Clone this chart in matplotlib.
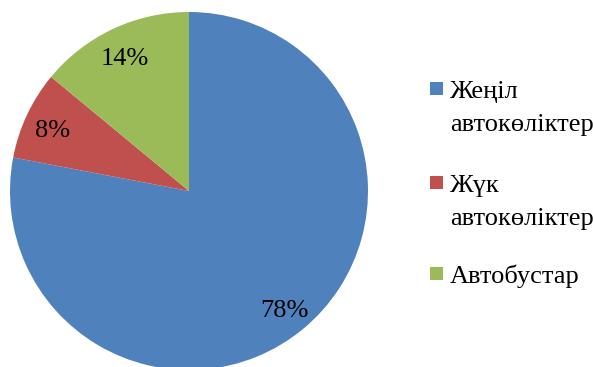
import matplotlib
matplotlib.use("Agg")
import matplotlib.pyplot as plt
from matplotlib.patches import Rectangle

plt.rcParams['font.family'] = ['Liberation Serif', 'DejaVu Serif']

labels = ["Жеңіл\nавтокөліктер", "Жүк\nавтокөліктер", "Автобустар"]
values = [78, 8, 14]
colors = ["#4F81BD", "#C0504D", "#9BBB59"]

W, H = 593, 367
fig = plt.figure(figsize=(W/100, H/100), dpi=100)
ax = fig.add_axes([10/W, -3/H, 358/W, 358/H])

wedges, texts, autotexts = ax.pie(values, colors=colors, startangle=90,
                                  counterclock=False, autopct="%d%%",
                                  pctdistance=0.84, radius=1,
                                  wedgeprops={"linewidth": 0})
plt.setp(autotexts, size=19, color="black")
# las etiquetas del original quedan un poco mas abajo
for t in autotexts:
    x, y = t.get_position()
    t.set_position((x, y - 0.025))
ax.set_xlim(-1, 1)
ax.set_ylim(-1, 1)
ax.set_aspect("equal")
ax.axis("off")

# leyenda a mano: cuadrado alineado con la primera linea
baselines = [98, 192, 283]
for w, lab, yb in zip(wedges, labels, baselines):
    fig.patches.append(Rectangle((430/W, 1 - (yb - 3)/H), 13/W, 13/H,
                                 transform=fig.transFigure,
                                 facecolor=w.get_facecolor(), edgecolor="none"))
    for i, linea in enumerate(lab.split("\n")):
        fig.text(450/W, 1 - (yb + 33*i)/H, linea, fontsize=19,
                 va="baseline", ha="left")

fig.savefig("out.png", dpi=100)
